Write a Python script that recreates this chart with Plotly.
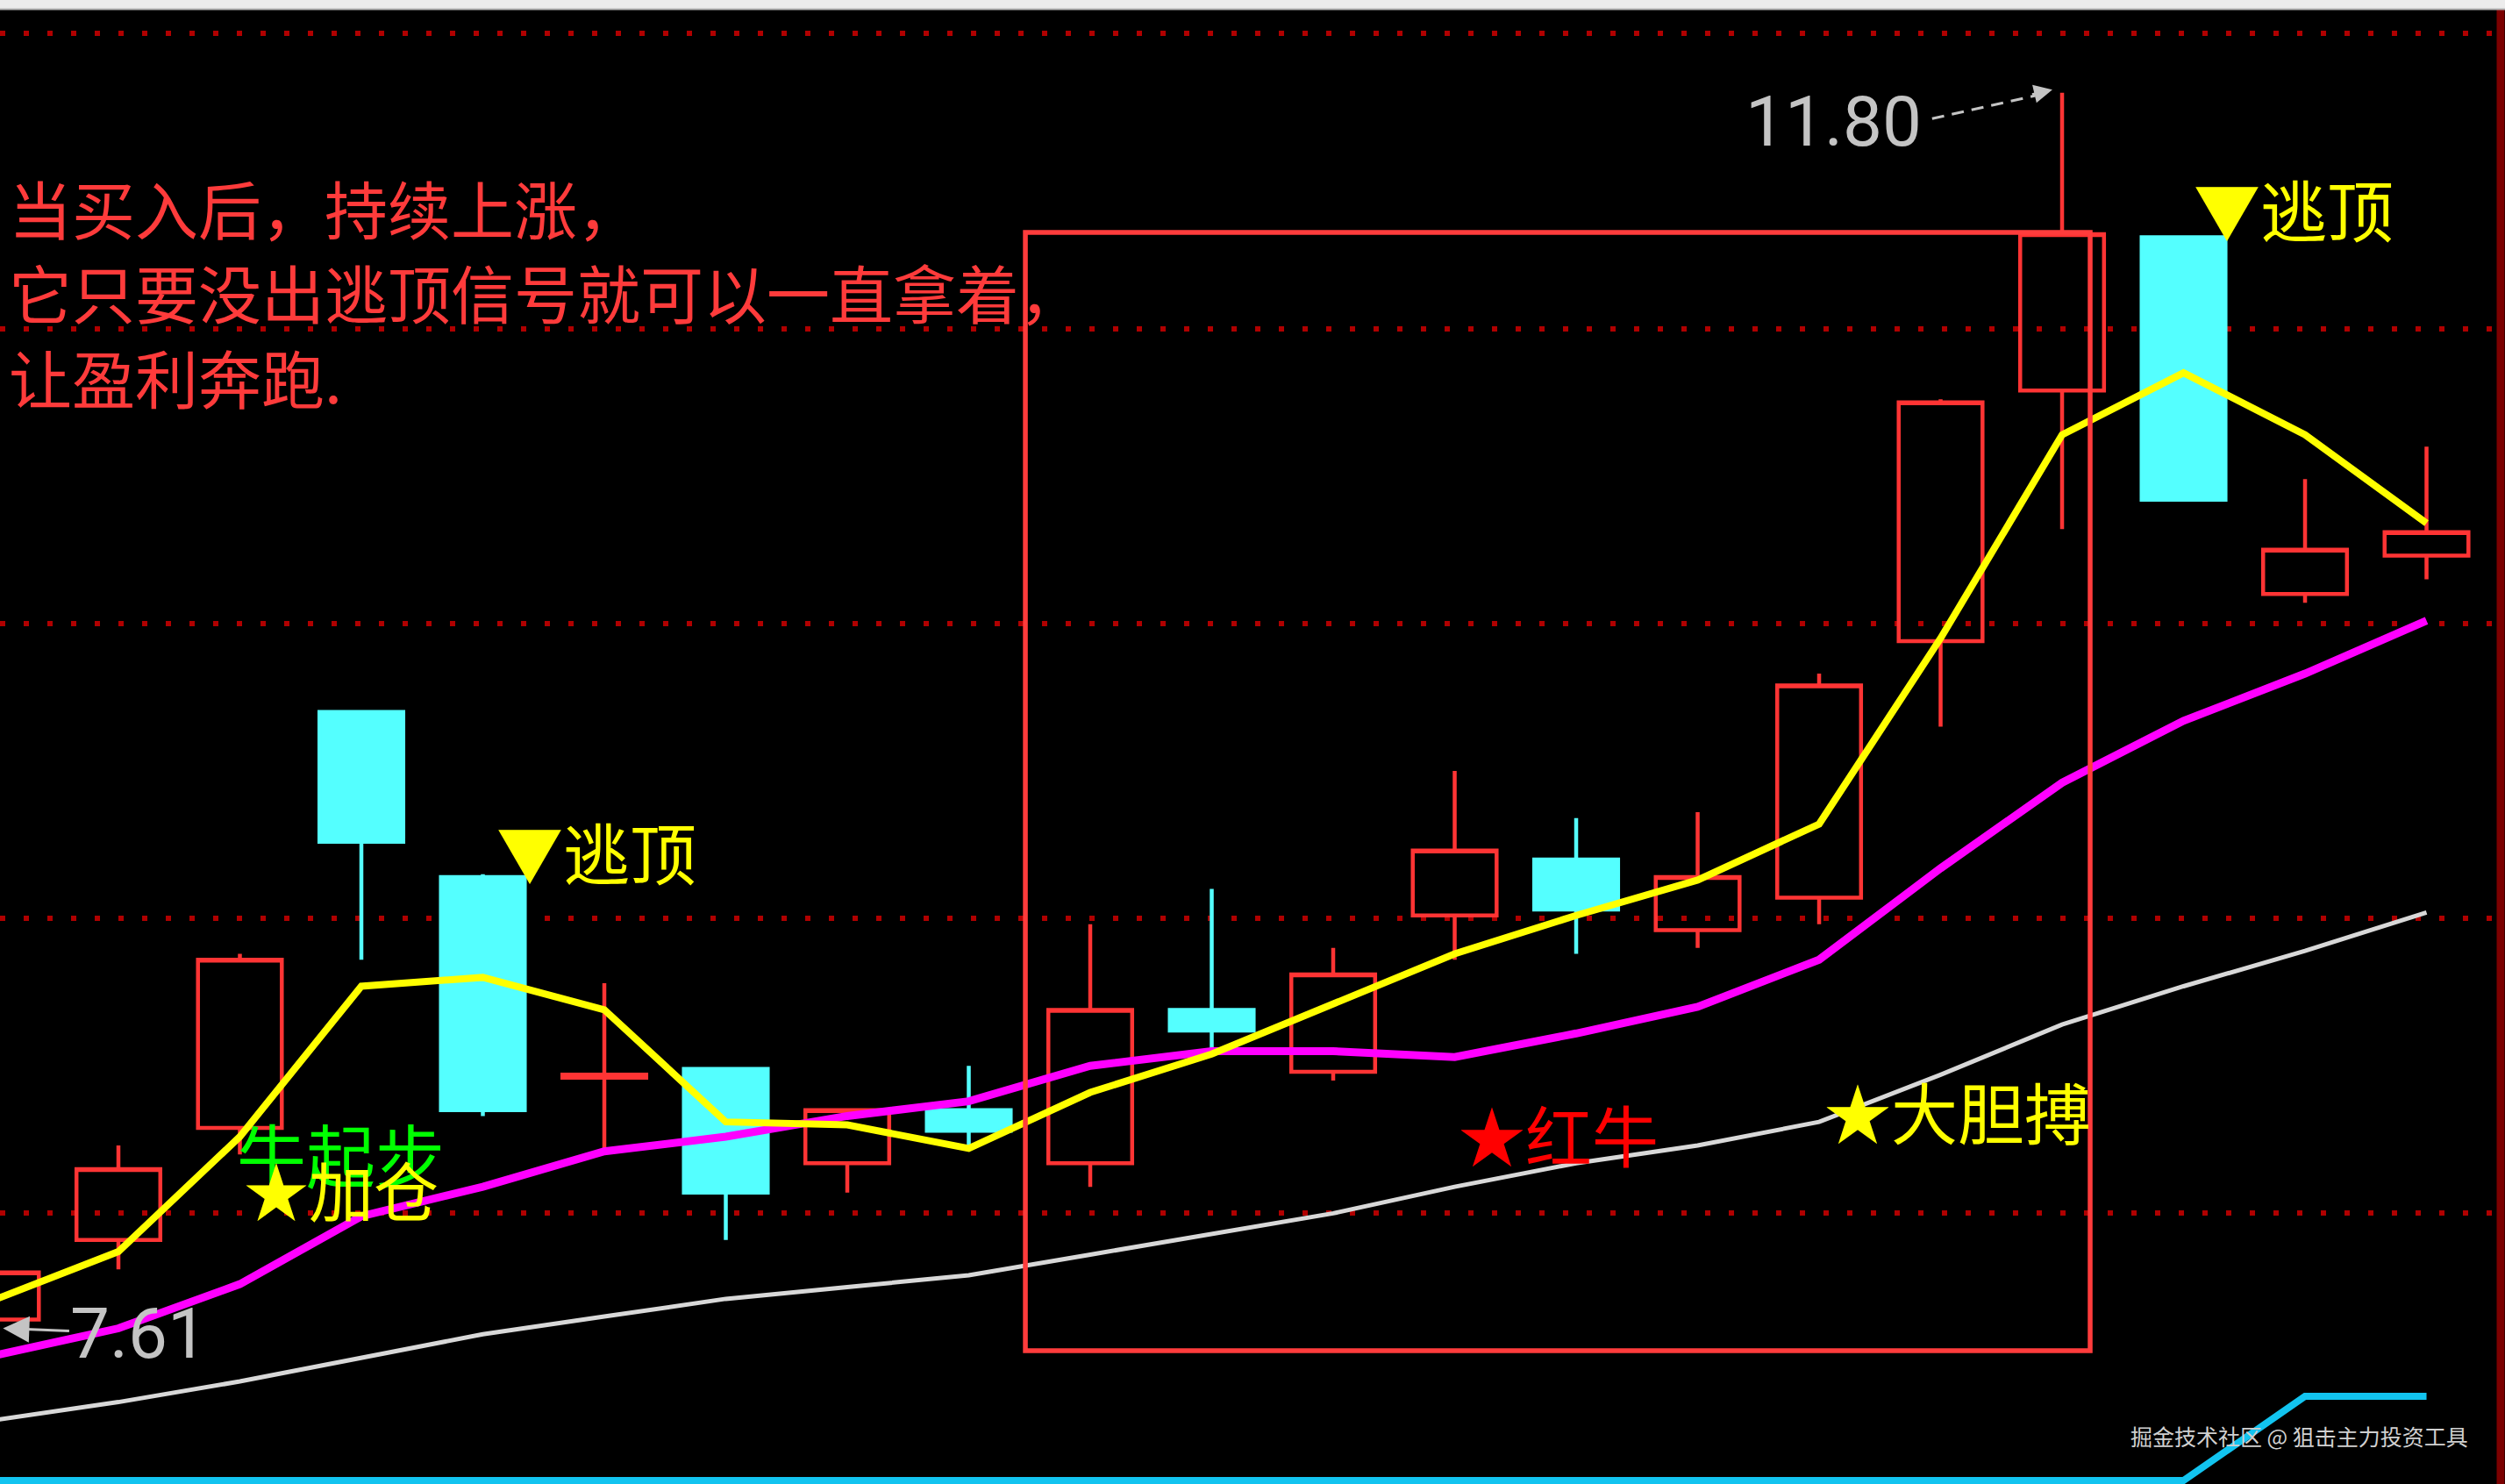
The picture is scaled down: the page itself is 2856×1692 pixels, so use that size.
import plotly.graph_objects as go

# ---- daily bars (trading-day index) ----
day = [0, 1, 2, 3, 4, 5, 6, 7, 8, 9, 10, 11, 12, 13, 14, 15, 16, 17, 18, 19, 20]

open_px = [7.64, 7.91, 8.29, 9.70, 9.14, 8.46, 8.49, 8.17, 8.35, 8.17, 8.69,
           8.48, 9.01, 9.20, 8.96, 9.07, 9.94, 10.79, 11.31, 10.10, 10.23]
high_px = [7.83, 8.23, 8.88, 9.70, 9.15, 8.78, 8.49, 8.35, 8.50, 8.98, 9.10,
           8.90, 9.50, 9.34, 9.36, 9.83, 10.76, 11.80, 11.31, 10.49, 10.60]
low_px = [7.61, 7.81, 8.20, 8.86, 8.33, 8.21, 7.91, 8.07, 8.22, 8.09, 8.54,
          8.45, 8.86, 8.88, 8.90, 8.98, 9.65, 10.32, 10.42, 10.07, 10.15]
close_px = [7.80, 8.15, 8.86, 9.26, 8.35, 8.47, 8.07, 8.35, 8.28, 8.69, 8.62,
            8.81, 9.23, 9.03, 9.14, 9.79, 10.75, 11.32, 10.42, 10.25, 10.31]

# ---- moving averages ----
ma_short = [7.71, 7.87, 8.26, 8.77, 8.80, 8.69, 8.31, 8.30, 8.22, 8.41, 8.54,
            8.71, 8.88, 9.01, 9.13, 9.32, 9.95, 10.64, 10.85, 10.64, 10.34]
ma_mid = [7.52, 7.61, 7.76, 7.99, 8.09, 8.21, 8.26, 8.33, 8.38, 8.50, 8.55,
          8.55, 8.53, 8.61, 8.70, 8.86, 9.17, 9.46, 9.67, 9.83, 10.01]
ma_long = [7.30, 7.36, 7.43, 7.51, 7.59, 7.65, 7.71, 7.75, 7.79, 7.86, 7.93,
           8.00, 8.09, 8.17, 8.23, 8.31, 8.47, 8.64, 8.77, 8.89, 9.02]

# ---- lower signal line ----
signal = [0, 0, 0, 0, 0, 0, 0, 0, 0, 0, 0, 0, 0, 0, 0, 0, 0, 0, 0, 1, 1]

price_grid = [8, 9, 10, 11, 12]
period_high = 11.80
period_low = 7.61

note_lines = ["当买入后，持续上涨，", "它只要没出逃顶信号就可以一直拿着，", "让盈利奔跑."]
watermark = "掘金技术社区 @ 狙击主力投资工具"

# signal labels: (day, price, text, colour, size)
signal_labels = [
    (4.10, 9.229, "▼逃顶", "#ffff00", 76),
    (18.07, 11.409, "▼逃顶", "#ffff00", 76),
    (1.96, 8.206, "牛起步", "#00ff00", 79),
    (2.02, 8.085, "★加仓", "#ffff00", 74),
    (12.02, 8.272, "★红牛", "#ff0000", 76),
    (15.03, 8.349, "★大胆搏", "#ffff00", 76),
]

W, H = 2856, 1692
CJK = "Noto Sans CJK SC"
NUM = "Roboto"
UP = "#ff3434"
DOWN = "#54ffff"

fig = go.Figure()

fig.add_trace(go.Scatter(x=day, y=ma_long, mode="lines",
                         line=dict(color="#d8d8d8", width=5)))
fig.add_trace(go.Scatter(x=day, y=ma_mid, mode="lines",
                         line=dict(color="#ff00ff", width=9)))
fig.add_trace(go.Scatter(x=day, y=ma_short, mode="lines",
                         line=dict(color="#ffff00", width=8)))

fig.add_trace(go.Candlestick(
    x=day, open=open_px, high=high_px, low=low_px, close=close_px,
    increasing=dict(line=dict(color=UP, width=4.5), fillcolor="rgba(0,0,0,0)"),
    decreasing=dict(line=dict(color=DOWN, width=4.5), fillcolor=DOWN),
    whiskerwidth=0, hoverinfo="skip",
))

fig.add_trace(go.Scatter(x=day, y=signal, mode="lines", yaxis="y2",
                         line=dict(color="#12c4f0", width=8)))

annotations = []
for i, txt in enumerate(note_lines):
    annotations.append(dict(
        xref="paper", yref="paper", x=8 / W, y=1 - (236 + 96 * i) / H,
        xanchor="left", yanchor="middle", text=txt, showarrow=False,
        font=dict(family=CJK, size=72, color="#ff3b3b")))

for dx, py, txt, col, size in signal_labels:
    annotations.append(dict(
        xref="x", yref="y", x=dx, y=py, xanchor="left", yanchor="middle",
        text=txt, showarrow=False, font=dict(family=CJK, size=size, color=col)))

# highest-price marker
annotations.append(dict(
    xref="x", yref="y", x=15.12, y=11.70, xanchor="center", yanchor="middle",
    text=f"{period_high:.2f}", showarrow=False,
    font=dict(family=NUM, size=80, color="#c4c4c4")))
annotations.append(dict(
    xref="x", yref="y", x=16.92, y=period_high + 0.01, text=" ",
    showarrow=True, ax=-26, ay=6, arrowhead=2, arrowsize=1.4,
    arrowwidth=3, arrowcolor="#c4c4c4"))

# lowest-price marker
annotations.append(dict(
    xref="x", yref="y", x=0.05, y=period_low, text=f"{period_low:.2f}",
    showarrow=True, ax=155, ay=6, arrowhead=2, arrowsize=2,
    arrowwidth=3, arrowcolor="#c4c4c4",
    font=dict(family=NUM, size=80, color="#c4c4c4")))

annotations.append(dict(
    xref="paper", yref="paper", x=2621 / W, y=1 - 1637 / H,
    xanchor="center", yanchor="middle", text=watermark, showarrow=False,
    font=dict(family=CJK, size=25, color="#d0d0d0")))

shapes = [
    # highlight box around the rally
    dict(type="rect", xref="x", yref="y", x0=8.466, x1=17.231, y0=7.534, y1=11.326,
         line=dict(color="#ff3c3c", width=5.5), fillcolor="rgba(0,0,0,0)", layer="above"),
    # dashed pointer towards the high
    dict(type="line", xref="x", yref="y", x0=15.93, y0=11.712, x1=16.78, y1=11.790,
         line=dict(color="#c4c4c4", width=3, dash="14px,9px")),
    # right frame edge
    dict(type="line", xref="paper", yref="paper", x0=2851 / W, x1=2851 / W,
         y0=0, y1=1 - 11 / H, line=dict(color="#7c0000", width=9)),
    # window strip on top
    dict(type="rect", xref="paper", yref="paper", x0=0, x1=1, y0=1 - 10 / H, y1=1,
         fillcolor="#ececec", line=dict(width=0), layer="above"),
    dict(type="line", xref="paper", yref="paper", x0=0, x1=1,
         y0=1 - 10.5 / H, y1=1 - 10.5 / H, line=dict(color="#b4b4b4", width=2)),
]

fig.update_layout(
    width=W, height=H,
    margin=dict(l=0, r=0, t=0, b=0),
    paper_bgcolor="#000000", plot_bgcolor="#000000",
    showlegend=False, hovermode=False, boxgap=0.31, boxgroupgap=0,
    xaxis=dict(range=[0.0253, 20.646], visible=False, showgrid=False,
               rangeslider=dict(visible=False), fixedrange=True),
    yaxis=dict(range=[7.0822, 12.1142], tickvals=price_grid, showticklabels=False,
               showgrid=True, gridcolor="#b00000", gridwidth=6, griddash="6px,21px",
               zeroline=False, showline=False, ticks="", fixedrange=True),
    yaxis2=dict(range=[-0.0417, 17.583], overlaying="y", visible=False,
                showgrid=False, zeroline=False, fixedrange=True),
    annotations=annotations,
    shapes=shapes,
)

fig.write_html("out.html")
